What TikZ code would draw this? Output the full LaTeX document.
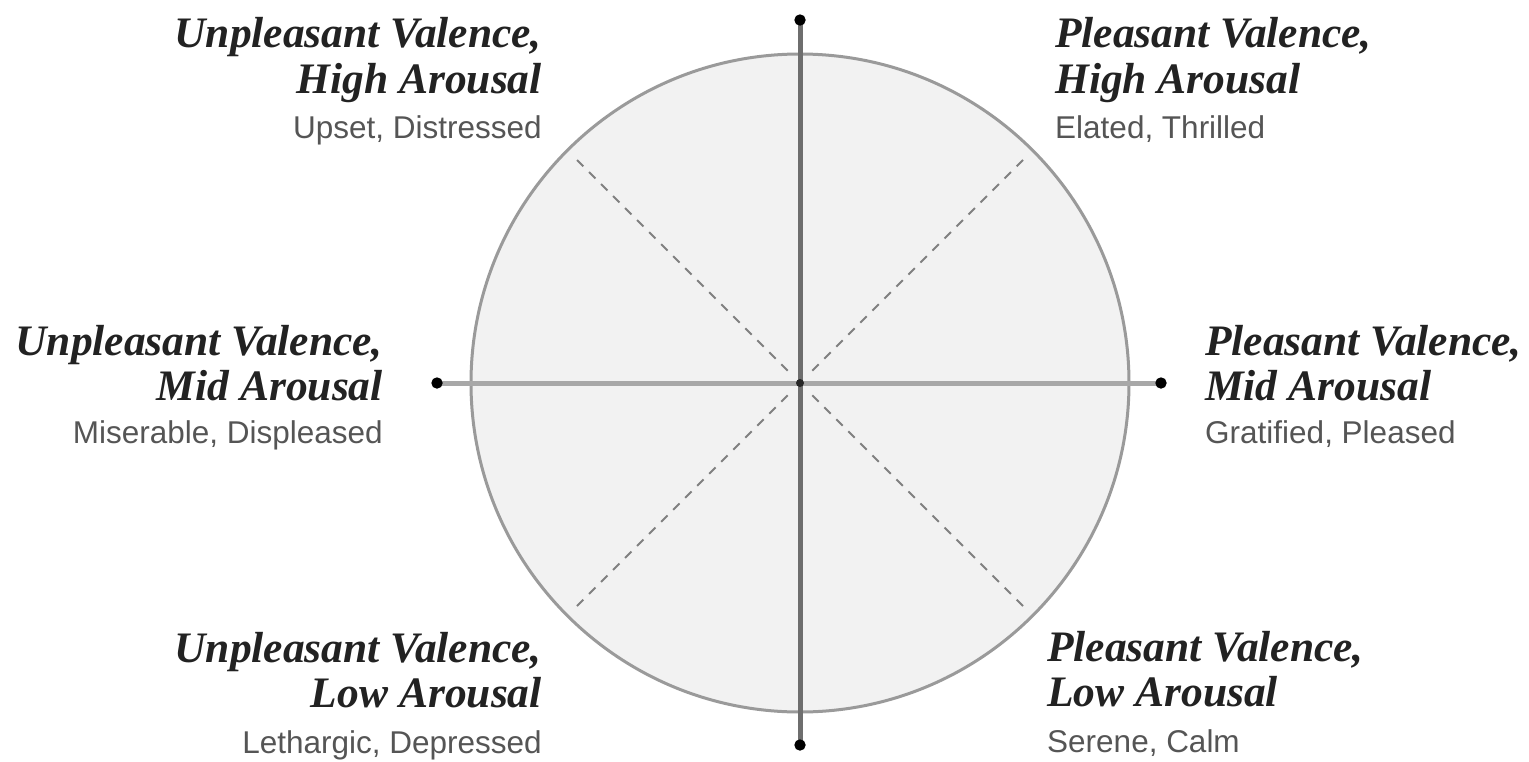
\documentclass[tikz,border=0pt]{standalone}
\usepackage{fontspec}
\setmainfont{Liberation Serif}
\newfontfamily\subfont{Liberation Sans}
\usetikzlibrary{arrows.meta,calc}
\definecolor{titlec}{HTML}{222222}
\definecolor{subc}{HTML}{555555}
\definecolor{circfill}{HTML}{F2F2F2}
\definecolor{circline}{HTML}{9A9A9A}
\definecolor{vaxis}{HTML}{6E6E6E}
\definecolor{haxis}{HTML}{A8A8A8}
\definecolor{diag}{HTML}{808080}
\tikzset{
  ttl/.style={inner sep=0pt, text=titlec, font=\fontsize{43.5}{46}\selectfont\bfseries\itshape},
  sub/.style={inner sep=0pt, text=subc, font=\fontsize{31.5}{34}\selectfont\subfont},
  axisline/.style={line width=5pt, {Circle[length=11pt,width=11pt,black]}-{Circle[length=11pt,width=11pt,black]}},
  diagline/.style={draw=diag, line width=2pt, dash pattern=on 9pt off 8pt}
}
\begin{document}
\begin{tikzpicture}[x=1pt,y=-1pt]
\useasboundingbox (0,0) rectangle (1529,761);
\coordinate (c) at (800,383);
\filldraw[fill=circfill, draw=circline, line width=3pt] (c) circle[radius=329];
% diagonals
\coordinate (dul) at ($(c)+(-223,-223)$);
\coordinate (dur) at ($(c)+(223,-223)$);
\coordinate (dll) at ($(c)+(-223,223)$);
\coordinate (dlr) at ($(c)+(223,223)$);
\coordinate (cul) at ($(c)+(-8,-8)$);
\coordinate (cur) at ($(c)+(8,-8)$);
\coordinate (cll) at ($(c)+(-8,8)$);
\coordinate (clr) at ($(c)+(8,8)$);
\draw[diagline] (dul) -- (cul);
\draw[diagline] (dur) -- (cur);
\draw[diagline] (dll) -- (cll);
\draw[diagline] (dlr) -- (clr);
% axes
\coordinate (left) at (431.5,383);
\coordinate (right) at (1166.5,383);
\coordinate (top) at (800,14.5);
\coordinate (bottom) at (800,750.5);
\draw[axisline, draw=haxis] (left) -- (right);
\draw[axisline, draw=vaxis] (bottom) -- (top);
\fill[black!85] (c) circle[radius=4];
% top-left
\node[ttl, anchor=base east] (tl1) at (542,47) {Unpleasant Valence,};
\node[ttl, anchor=base east] (tl2) at (542,93) {High Arousal};
\node[sub, anchor=base east] (tl3) at (542,138) {Upset, Distressed};
% mid-left
\node[ttl, anchor=base east] (ml1) at (383,355) {Unpleasant Valence,};
\node[ttl, anchor=base east] (ml2) at (383,400) {Mid Arousal};
\node[sub, anchor=base east] (ml3) at (383,443) {Miserable, Displeased};
% bottom-left
\node[ttl, anchor=base east] (bl1) at (542,662) {Unpleasant Valence,};
\node[ttl, anchor=base east] (bl2) at (542,707) {Low Arousal};
\node[sub, anchor=base east] (bl3) at (542,753) {Lethargic, Depressed};
% top-right
\node[ttl, anchor=base west] (tr1) at (1055,47) {Pleasant Valence,};
\node[ttl, anchor=base west] (tr2) at (1055,93) {High Arousal};
\node[sub, anchor=base west] (tr3) at (1055,138) {Elated, Thrilled};
% mid-right
\node[ttl, anchor=base west] (mr1) at (1205,355) {Pleasant Valence,};
\node[ttl, anchor=base west] (mr2) at (1205,400) {Mid Arousal};
\node[sub, anchor=base west] (mr3) at (1205,443) {Gratified, Pleased};
% bottom-right
\node[ttl, anchor=base west] (br1) at (1047,661) {Pleasant Valence,};
\node[ttl, anchor=base west] (br2) at (1047,706) {Low Arousal};
\node[sub, anchor=base west] (br3) at (1047,752) {Serene, Calm};
\end{tikzpicture}
\end{document}
